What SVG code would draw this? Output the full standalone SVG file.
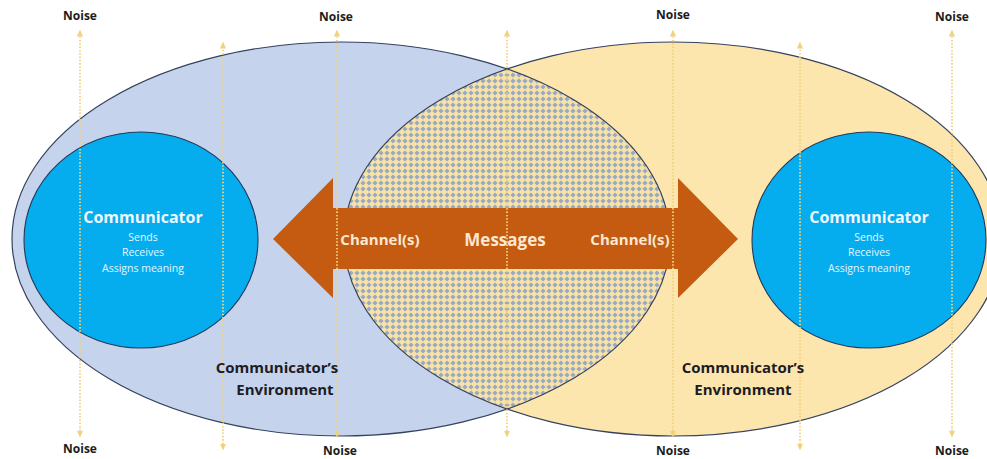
<svg xmlns="http://www.w3.org/2000/svg" width="987" height="459" viewBox="0 0 987 459">
  <style>
    .env-left { fill: #c5d4ec; }
    .env-right { fill: #fde6ad; }
    .outline { fill: none; stroke: #34425f; stroke-width: 1.2; }
    .person { fill: #05adef; stroke: #24385a; stroke-width: 1.1; }
    .noise-line { fill: none; stroke: #f1d27c; stroke-width: 1.4; stroke-dasharray: 1.3 2; }
    .noise { font-family: "Open Sans", "Liberation Sans", sans-serif; font-weight: 700; font-size: 12px; fill: #1b1b1b; text-anchor: middle; }
    .env-label { font-family: "Open Sans", "Liberation Sans", sans-serif; font-weight: 700; font-size: 15px; fill: #1c1c24; text-anchor: middle; }
    .title { font-family: "Open Sans", "Liberation Sans", sans-serif; font-weight: 700; font-size: 16px; fill: #eef8ff; text-anchor: middle; }
    .sub { font-family: "Open Sans", "Liberation Sans", sans-serif; font-size: 10.5px; fill: #e6f4ff; text-anchor: middle; }
    .channel { font-family: "Open Sans", "Liberation Sans", sans-serif; font-weight: 700; font-size: 15px; fill: #fbe8d2; text-anchor: middle; }
    .msg { font-family: "Open Sans", "Liberation Sans", sans-serif; font-weight: 700; font-size: 17px; fill: #fbe8d2; text-anchor: middle; }
  </style>
  <defs>
    <pattern id="diamonds" width="6" height="6" patternUnits="userSpaceOnUse">
      <rect width="6" height="6" fill="#f8e3a4"/>
      <path d="M3 0.4 L5.6 3 L3 5.6 L0.4 3 Z" fill="#98a9c8"/>
    </pattern>
    <clipPath id="leftEnv">
      <ellipse cx="341" cy="239" rx="329" ry="197"/>
    </clipPath>
    <marker id="tip" viewBox="0 0 8 8" refX="4" refY="4" markerWidth="7" markerHeight="7" markerUnits="userSpaceOnUse" orient="auto">
      <path d="M0 0.5 L8 4 L0 7.5 Z" fill="#f1d27c"/>
    </marker>
  </defs>

  <rect width="987" height="459" fill="#ffffff"/>

  <!-- Environments and their overlap -->
  <g id="environment-left">
    <ellipse class="env-left" cx="341" cy="239" rx="329" ry="197"/>
  </g>
  <g id="environment-right">
    <ellipse class="env-right" cx="673" cy="239" rx="329" ry="197"/>
  </g>
  <g id="shared-messages">
    <ellipse cx="673" cy="239" rx="329" ry="197" fill="url(#diamonds)" clip-path="url(#leftEnv)"/>
  </g>
  <g id="environment-outlines">
    <ellipse class="outline" cx="341" cy="239" rx="329" ry="197"/>
    <ellipse class="outline" cx="673" cy="239" rx="329" ry="197"/>
  </g>

  <!-- Communicators -->
  <g id="communicator-left">
    <ellipse class="person" cx="141" cy="240" rx="117" ry="108"/>
  </g>
  <g id="communicator-right">
    <ellipse class="person" cx="869" cy="240" rx="117" ry="108"/>
  </g>

  <!-- Two-way channel arrow -->
  <g id="channel-arrow">
    <path d="M273 239 L333 178 L333 208 L678 208 L678 178 L738 239 L678 298 L678 269 L333 269 L333 298 Z" fill="#c55a11"/>
  </g>

  <!-- Noise crossing the whole exchange -->
  <g id="connectors">
    <path class="noise-line" d="M80 434 V33" marker-end="url(#tip)"/>
    <path class="noise-line" d="M80 40 V434" marker-end="url(#tip)"/>
    <path class="noise-line" d="M223 447 V45" marker-end="url(#tip)"/>
    <path class="noise-line" d="M223 50 V447" marker-end="url(#tip)"/>
    <path class="noise-line" d="M337 434 V33" marker-end="url(#tip)"/>
    <path class="noise-line" d="M337 40 V434" marker-end="url(#tip)"/>
    <path class="noise-line" d="M507 434 V33" marker-end="url(#tip)"/>
    <path class="noise-line" d="M507 40 V434" marker-end="url(#tip)"/>
    <path class="noise-line" d="M673 434 V33" marker-end="url(#tip)"/>
    <path class="noise-line" d="M673 40 V434" marker-end="url(#tip)"/>
    <path class="noise-line" d="M800 447 V45" marker-end="url(#tip)"/>
    <path class="noise-line" d="M800 50 V447" marker-end="url(#tip)"/>
    <path class="noise-line" d="M952 434 V33" marker-end="url(#tip)"/>
    <path class="noise-line" d="M952 40 V434" marker-end="url(#tip)"/>
  </g>

  <!-- Labels -->
  <g id="communicator-left-label">
    <text class="title" x="143" y="223">Communicator</text>
    <text class="sub" x="143" y="241">Sends</text>
    <text class="sub" x="143" y="256">Receives</text>
    <text class="sub" x="143" y="272">Assigns meaning</text>
  </g>
  <g id="communicator-right-label">
    <text class="title" x="869" y="223">Communicator</text>
    <text class="sub" x="869" y="241">Sends</text>
    <text class="sub" x="869" y="256">Receives</text>
    <text class="sub" x="869" y="272">Assigns meaning</text>
  </g>
  <g id="channel-labels">
    <text class="channel" x="380" y="245">Channel(s)</text>
    <text class="msg" x="505" y="246">Messages</text>
    <text class="channel" x="630" y="245">Channel(s)</text>
  </g>
  <g id="environment-labels">
    <text class="env-label" x="277" y="373">Communicator’s</text>
    <text class="env-label" x="285" y="395">Environment</text>
    <text class="env-label" x="743" y="373">Communicator’s</text>
    <text class="env-label" x="743" y="395">Environment</text>
  </g>
  <g id="noise-labels">
    <text class="noise" x="80" y="20">Noise</text>
    <text class="noise" x="336" y="21">Noise</text>
    <text class="noise" x="673" y="19">Noise</text>
    <text class="noise" x="952" y="21">Noise</text>
    <text class="noise" x="80" y="453">Noise</text>
    <text class="noise" x="340" y="455">Noise</text>
    <text class="noise" x="673" y="455">Noise</text>
    <text class="noise" x="952" y="455">Noise</text>
  </g>
</svg>
